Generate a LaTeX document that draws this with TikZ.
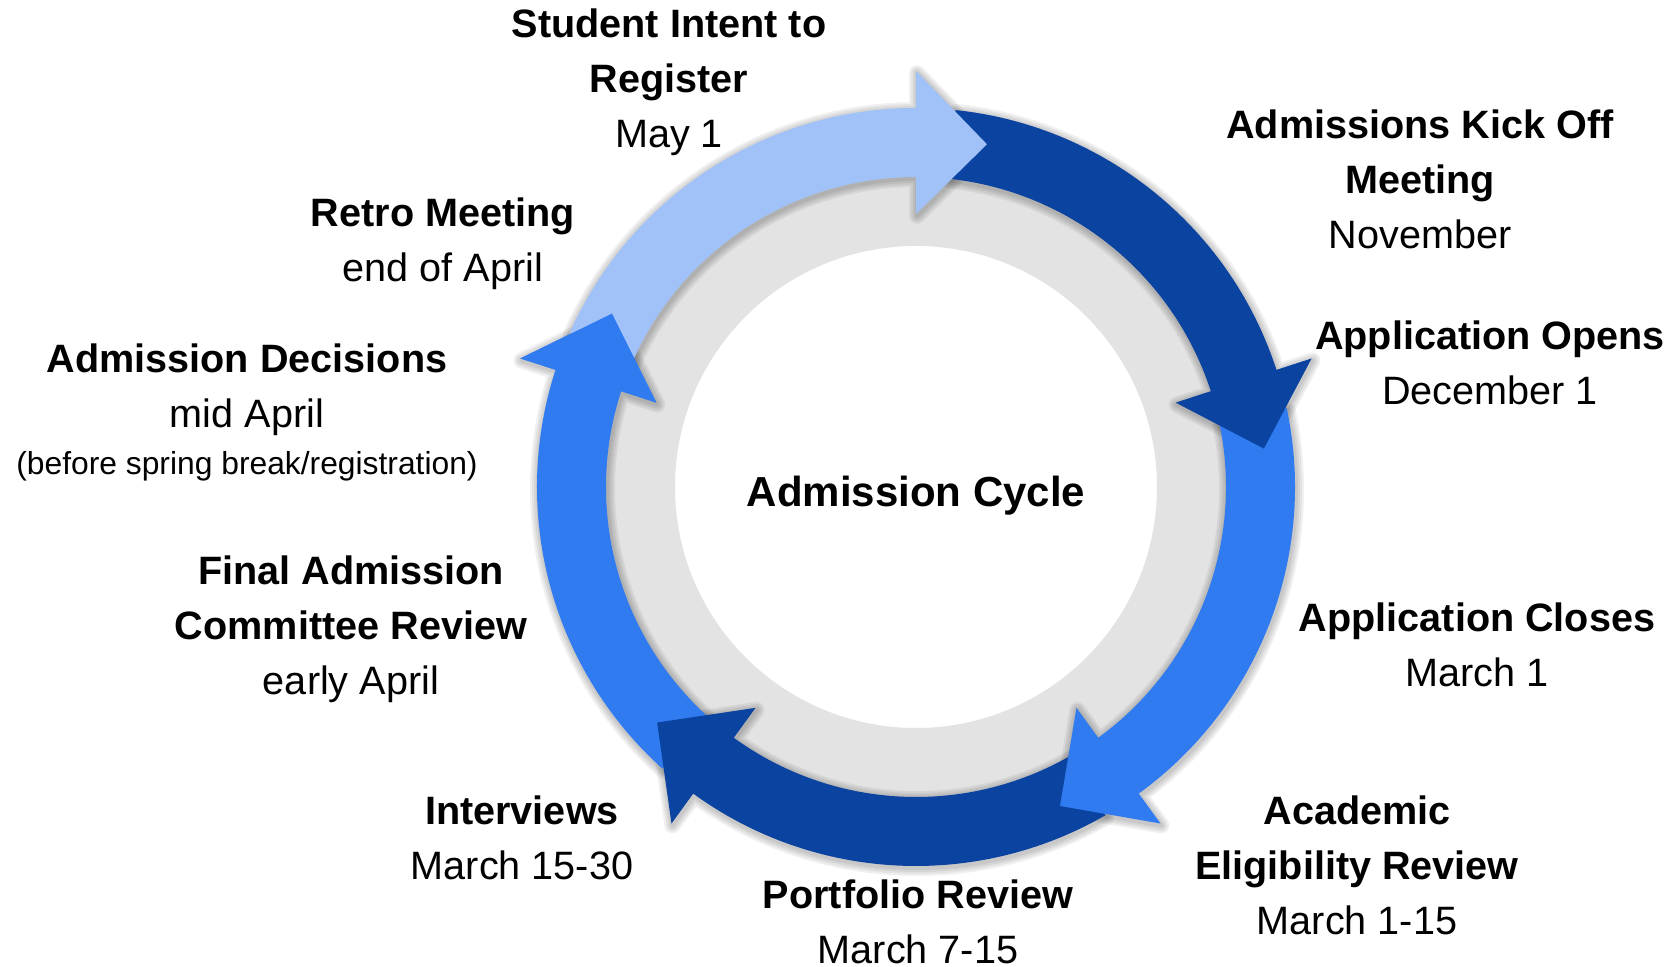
\documentclass[tikz,border=0pt]{standalone}
\usepackage{fontspec}
\setmainfont{Liberation Sans}
\usetikzlibrary{calc}
\definecolor{cycleLight}{HTML}{A0C2F9}
\definecolor{cycleNavy}{HTML}{0B43A0}
\definecolor{cycleBlue}{HTML}{317BF0}
\definecolor{cycleGray}{HTML}{E3E3E3}
\tikzset{
  stage/.style={align=center,anchor=base,inner sep=0pt,font=\fontsize{19.8}{27.5}\selectfont},
  centertitle/.style={anchor=base,inner sep=0pt,font=\fontsize{21}{26}\selectfont\bfseries},
  arrowshadow/.style={draw=black,line join=round,opacity=0.06},
}
\newcommand{\smallnote}{\fontsize{15.9}{20}\selectfont}

\begin{document}
\begin{tikzpicture}[x=0.5pt,y=0.5pt]
  \useasboundingbox (0,0) rectangle (1678,967);
  \coordinate (C) at (916,480);
  \coordinate (Cs) at (917,478);

  % grey ring behind the arrows
  \fill[cycleGray,even odd rule] (C) circle[radius=340] (C) circle[radius=241];

  % soft shadow under the arrows
  \foreach \tail/\base in {156/90, 84/18, 12/-54, -60/-126, -132/-198}{
    \pgfmathsetmacro\tip{\base-11.7}
    \foreach \w in {8,6,4,2}
      \draw[arrowshadow,line width=\w pt] ($(Cs)+(\tail:379)$)
        arc[start angle=\tail,end angle=\base,radius=379]
        -- ($(Cs)+(\base:416)$) -- ($(Cs)+(\tip:350)$) -- ($(Cs)+(\base:273)$)
        -- ($(Cs)+(\base:310)$) arc[start angle=\base,end angle=\tail,radius=310] -- cycle;
  }

  % five arrows, each head lying over the next tail
  \foreach \tail/\base/\col in {-132/-198/cycleBlue, -60/-126/cycleNavy, 12/-54/cycleBlue,
                               84/18/cycleNavy, 156/90/cycleLight}{
    \pgfmathsetmacro\tip{\base-11.7}
    \fill[\col] ($(C)+(\tail:379)$)
      arc[start angle=\tail,end angle=\base,radius=379]
      -- ($(C)+(\base:416)$) -- ($(C)+(\tip:350)$) -- ($(C)+(\base:273)$)
      -- ($(C)+(\base:310)$) arc[start angle=\base,end angle=\tail,radius=310] -- cycle;
  }
  % head of the left arrow again, over the tail of the top one
  \fill[cycleBlue] ($(C)+(-198:416)$) -- ($(C)+(-209.7:350)$) -- ($(C)+(-198:273)$) -- cycle;

  \node[centertitle] (cycle) at (916,460) {Admission Cycle};

  % labels sit on the baseline of their last line
  \node[stage] (intent) at (669,819) {\textbf{Student Intent to}\\\textbf{Register}\\May 1};
  \node[stage] (kickoff) at (1420,718) {\textbf{Admissions Kick Off}\\\textbf{Meeting}\\November};
  \node[stage] (opens) at (1490,562) {\textbf{Application Opens}\\December 1};
  \node[stage] (closes) at (1477,280) {\textbf{Application Closes}\\March 1};
  \node[stage] (eligibility) at (1357,32) {\textbf{Academic}\\\textbf{Eligibility Review}\\March 1-15};
  \node[stage] (portfolio) at (918,3) {\textbf{Portfolio Review}\\March 7-15};
  \node[stage] (interviews) at (522,87) {\textbf{Interviews}\\March 15-30};
  \node[stage] (final) at (351,272) {\textbf{Final Admission}\\\textbf{Committee Review}\\early April};
  \node[stage] (decisions) at (247,492) {\textbf{Admission Decisions}\\mid April\\[-4pt]{\smallnote (before spring break/registration)}};
  \node[stage] (retro) at (443,685) {\textbf{Retro Meeting}\\end of April};
\end{tikzpicture}
\end{document}
